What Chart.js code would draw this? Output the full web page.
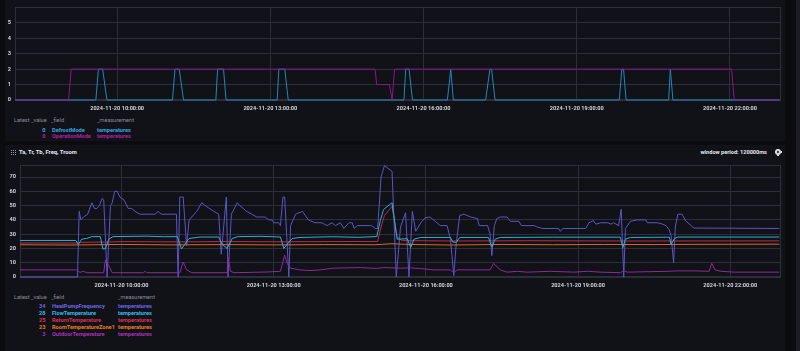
<!DOCTYPE html>
<html><head><meta charset="utf-8">
<script src="https://cdn.jsdelivr.net/npm/chart.js@4.4.1/dist/chart.umd.min.js"></script>
<style>
html,body{margin:0;padding:0;background:#0b0b10;width:800px;height:351px;overflow:hidden;font-family:Roboto,"Noto Sans",sans-serif;}
.panel{position:absolute;background:#111118;}
canvas{position:absolute;}
.t{position:absolute;white-space:nowrap;font-size:5.6px;line-height:7px;}
.b{font-weight:bold;}
.h{color:#8c8c9c;}
</style>
</head><body>
<div class="panel" style="left:5px;top:0;width:780px;height:141px"></div>
<div class="panel" style="left:5px;top:145px;width:780px;height:206px"></div>
<div style="position:absolute;left:796px;top:0;width:4px;height:351px;background:#1c1c24"></div>
<canvas id="c1" width="780" height="116" style="left:5px;top:0"></canvas>
<canvas id="c2" width="780" height="134" style="left:5px;top:158px"></canvas>
<div id="legend"></div>
<div style="position:absolute;left:11px;top:150px;width:1px;height:1px;background:#9a9aa8;box-shadow:2px 0 #9a9aa8,4px 0 #9a9aa8,0 2px #9a9aa8,2px 2px #9a9aa8,4px 2px #9a9aa8,0 4px #9a9aa8,2px 4px #9a9aa8,4px 4px #9a9aa8"></div>
<div class="t b" style="left:19px;top:149px;color:#e8e8f0;font-size:5.8px">Ta, Tr, Tb, Freq, Troom</div>
<div class="t b" style="right:33px;top:149px;color:#e8e8f0;font-size:5.6px">window period: 120000ms</div>
<div style="position:absolute;left:775px;top:149px;width:6px;height:6px;">
  <div style="position:absolute;left:0;top:0;width:6px;height:6px;border-radius:50%;background:#d8d8e0"></div>
  <div style="position:absolute;left:2px;top:-0.5px;width:2px;height:7px;background:#d8d8e0"></div>
  <div style="position:absolute;left:-0.5px;top:2px;width:7px;height:2px;background:#d8d8e0"></div>
  <div style="position:absolute;left:2px;top:2px;width:2px;height:2px;border-radius:50%;background:#111118"></div>
</div>
<script>
// ---------- top chart data ----------
const defrostTimes = ["08:00","09:35","09:38","09:43","09:48","11:05","11:08","11:13","11:18","11:56","11:58","12:05","12:08","13:08","13:10","13:17","13:21","15:37","15:39","15:43","15:47","16:28","16:32","16:35","17:13","17:18","17:20","17:24","19:50","19:53","19:55","19:58","20:48","20:50","20:53","22:58"];
const defrostValues = [0,0,2,2,0,0,2,2,0,0,2,2,0,0,2,2,0,0,2,2,0,0,2,0,0,2,2,0,0,2,2,0,0,2,0,0];
const opTimes = ["08:00","09:03","09:06","15:03","15:05","15:20","15:23","15:26","22:02","22:05","22:58"];
const opValues = [0,0,2,2,1,1,0,2,2,0,0];
const topYTicks = [0,1,2,3,4,5];

// ---------- bottom chart data ----------
const freqTimes = ["08:00","09:08","09:10","09:12","09:15","09:20","09:25","09:28","09:31","09:34","09:37","09:39","09:43","09:47","09:49","09:52","09:55","09:58","10:03","10:08","10:12","10:16","10:22","10:40","10:43","10:47","11:05","11:07","11:09","11:13","11:17","11:20","11:29","11:35","11:39","11:49","11:55","11:58","12:04","12:06","12:10","12:17","12:20","12:28","12:34","12:40","12:50","12:54","12:58","13:00","13:06","13:08","13:11","13:13","13:18","13:20","13:26","13:34","13:41","13:49","13:57","14:03","14:09","14:13","14:19","14:23","14:29","14:33","14:35","14:39","14:56","15:00","15:03","15:07","15:11","15:20","15:25","15:30","15:36","15:40","15:44","15:48","15:54","15:59","16:05","16:11","16:17","16:25","16:29","16:33","16:36","16:40","16:45","16:53","17:01","17:03","17:13","17:16","17:18","17:21","17:24","17:28","17:36","17:40","17:50","17:53","18:08","18:12","18:18","18:37","18:39","18:42","19:09","19:13","19:18","19:21","19:27","19:35","19:39","19:42","19:48","19:51","19:54","19:56","20:02","20:10","20:20","20:22","20:34","20:40","20:44","20:48","20:50","20:53","20:55","20:58","21:03","21:07","21:17","22:58"];
const freqValues = [0,0,46,40,42,44,52,48,48,50,55,54,0,50,52,60,60,56,54,48,48,46,44,44,46,44,44,0,56,56,22,40,46,52,50,46,44,16,56,0,44,52,50,46,44,42,42,40,40,38,38,36,56,56,0,36,44,46,40,38,38,36,38,36,38,34,38,38,34,36,36,34,34,70,78,74,0,35,45,0,46,32,38,41.5,42,39,36,36,27,1,24,43,44,42,41,36,36,30,15,36,41,42,42,39,39,36,36,35,34,34,32,34,34,38,39.5,37,38,38,37,38,36,47.5,0,34,39,40,40,38,38,37,36,33,29,10,35,44,44,39.5,34.3,34];
const flowTimes = ["08:00","09:06","09:09","09:13","09:19","09:25","09:35","09:38","09:41","09:45","09:50","10:30","10:50","11:06","11:11","11:15","11:20","11:33","11:55","11:59","12:05","12:11","12:18","12:45","13:08","13:12","13:16","13:22","13:31","14:10","14:40","15:02","15:06","15:10","15:20","15:26","15:38","15:42","15:46","15:54","16:29","16:32","16:36","16:40","17:14","17:18","17:22","17:28","18:30","19:50","19:53","19:56","20:02","20:48","20:50","20:54","20:58","22:58"];
const flowValues = [25.6,25.6,22.8,26.5,27,28.3,28.3,19.6,19.8,26.5,28.3,28.6,28.2,28.3,19.6,23,27,28,28,23,20,27,28.3,28.5,28,20,23,27,27.7,28.2,27.8,28.3,39.3,47.3,52,26.5,26.8,20.6,26.5,27.7,27.7,24.4,24.4,27.7,27.7,21,26.5,27.7,27.9,27.9,20.6,26.5,27.7,27.9,22.8,27,28,28];
const returnTimes = ["08:00","09:08","09:12","09:40","10:00","11:10","12:00","13:10","15:03","15:07","15:11","15:20","15:26","15:32","16:30","18:00","20:00","22:58"];
const returnValues = [23.8,23.8,24.3,24.5,24.8,24.6,24.8,24.7,24.9,35,43,49.5,28,25.5,25.2,25.4,25.2,25.3];
const roomTimes = ["08:00","09:00","10:00","11:00","12:00","13:00","14:00","15:00","15:20","15:40","16:30","17:30","18:30","19:30","20:30","21:30","22:58"];
const roomValues = [22.6,22.4,22.8,22.5,22.7,22.5,22.7,22.6,23.3,22.8,22.4,22.8,22.6,22.8,22.7,22.9,23];
const outdoorTimes = ["08:00","09:07","09:11","09:15","09:19","09:39","09:41","09:45","09:49","10:26","10:28","10:30","11:09","11:13","11:17","11:23","12:05","12:06","12:09","12:13","12:52","13:08","13:13","13:16","13:20","13:31","13:43","13:55","14:11","14:43","15:02","15:10","15:30","15:42","15:54","16:09","16:29","16:33","16:37","17:16","17:20","17:28","17:36","17:48","18:00","18:27","18:55","19:11","19:27","19:50","19:54","19:58","20:46","20:58","21:17","21:35","21:38","21:42","21:49","22:05","22:58"];
const outdoorValues = [5,5,3.2,4,3,3,11.9,8,3,3,4,3,3,10.5,5,3,3,14,4,3,3.5,4,15.3,9.6,6.2,5,4.5,5,6.2,6.6,6,6.6,6.2,6.4,5.9,5,5,3,5,5,9.6,5,3.4,4,3.4,4,3.4,4,3.4,3,4.5,3.4,4,4.3,4.3,4,9.6,5,4,3.4,3.4];
const bottomYTicks = [0,10,20,30,40,50,60,70];
const xTickHours = [10,13,16,19,22];
const dateLabel = "2024-11-20";

const toH = s => { const p = s.split(':').map(Number); return p[0] + p[1]/60; };
const pts = (ts, vs) => ts.map((t,i) => ({x: toH(t), y: vs[i]}));
const pad = n => String(n).padStart(2,'0');

const GRID = '#2e2e3a';
const TICK = '#d4d4dc';
const FONT = {family:'Roboto', size:5.6, weight:'bold'};

const frame = {
  id:'frame',
  beforeDatasetsDraw(chart){
    const a = chart.chartArea, c = chart.ctx;
    c.save(); c.strokeStyle = GRID; c.lineWidth = 1;
    c.strokeRect(Math.round(a.left)+0.5, Math.round(a.top)+0.5, Math.round(a.right-a.left)-1, Math.round(a.bottom-a.top)-1);
    c.restore();
  }
};

function opts(yTicks, ymax, yW, xH){
  return {
    responsive:false, animation:false, devicePixelRatio:1,
    layout:{padding:{top:5,right:4,left:0,bottom:0}},
    plugins:{legend:{display:false}, tooltip:{enabled:false}},
    elements:{point:{radius:0}, line:{tension:0, borderWidth:1}},
    datasets:{line:{clip:4}},
    scales:{
      x:{type:'linear', min:8, max:23,
        afterBuildTicks: s => { s.ticks = xTickHours.map(v => ({value:v})); },
        afterFit: s => { s.height = xH; },
        grid:{color:GRID, drawTicks:false}, border:{display:false},
        ticks:{color:TICK, font:FONT, padding:5, maxRotation:0, autoSkip:false,
          callback: v => dateLabel + ' ' + pad(v) + ':00:00'}},
      y:{type:'linear', min:0, max:ymax,
        afterBuildTicks: s => { s.ticks = yTicks.map(v => ({value:v})); },
        afterFit: s => { s.width = yW; },
        grid:{color:GRID, drawTicks:false}, border:{display:false},
        ticks:{color:TICK, font:FONT, padding:4}}
    }
  };
}

new Chart(document.getElementById('c1'), {
  type:'line',
  data:{datasets:[
    {label:'OperationMode', data:pts(opTimes, opValues), borderColor:'#86198a', order:0, clip:4},
    {label:'DefrostMode', data:pts(defrostTimes, defrostValues), borderColor:'#2586b8', order:1, clip:4}
  ]},
  options:opts(topYTicks, 6, 10, 16),
  plugins:[frame]
});

const bottomSeries = [
  {field:'HeatPumpFrequency', t:freqTimes, v:freqValues, line:'#5a56c8', text:'#6c68e4'},
  {field:'FlowTemperature', t:flowTimes, v:flowValues, line:'#27b2d8', text:'#32bdf0'},
  {field:'ReturnTemperature', t:returnTimes, v:returnValues, line:'#b82c48', text:'#d8344f'},
  {field:'RoomTemperatureZone1', t:roomTimes, v:roomValues, line:'#d86a1e', text:'#f07c22'},
  {field:'OutdoorTemperature', t:outdoorTimes, v:outdoorValues, line:'#8e2a9e', text:'#a832b8'}
];
new Chart(document.getElementById('c2'), {
  type:'line',
  data:{datasets: bottomSeries.map((s,i) => ({label:s.field, data:pts(s.t, s.v), borderColor:s.line, order: i===0 ? 9 : i, clip:4}))},
  options:opts(bottomYTicks, 78.2, 15, 15),
  plugins:[frame]
});

// ---------- legends ----------
const topSeries = [
  {field:'DefrostMode', v:defrostValues, text:'#38a6e0'},
  {field:'OperationMode', v:opValues, text:'#a822a8'}
];
const L = document.getElementById('legend');
function addText(txt, left, top, cls, color, right){
  const d = document.createElement('div');
  d.className = 't ' + cls;
  d.textContent = txt;
  if (right) { d.style.right = (800-left) + 'px'; } else { d.style.left = left + 'px'; }
  d.style.top = top + 'px';
  if (color) d.style.color = color;
  L.appendChild(d);
}
function legend(series, headTop, rowTop, step, measX){
  addText('Latest _value', 14, headTop, 'h');
  addText('_field', 51, headTop, 'h');
  addText('_measurement', measX, headTop, 'h');
  series.forEach((s,i) => {
    const y = rowTop + i*step;
    addText(String(Math.round(s.v[s.v.length-1])), 45.5, y, 'b', s.text, true);
    addText(s.field, 52, y, 'b', s.text);
    addText('temperatures', measX, y, 'b', s.text);
  });
}
legend(topSeries, 117, 126.5, 6.7, 97);
legend(bottomSeries, 294, 303.3, 6.8, 118);
</script>
</body></html>
